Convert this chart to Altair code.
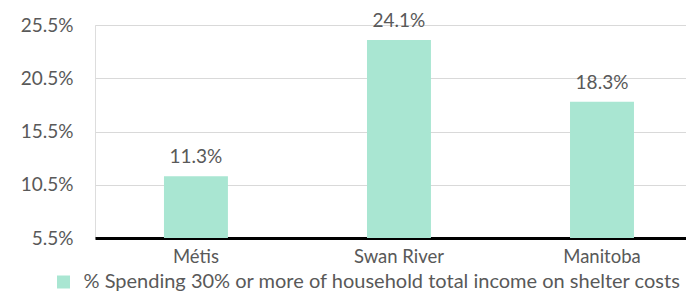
import altair as alt
import pandas as pd

categories = ["Métis", "Swan River", "Manitoba"]
values = [11.3, 24.1, 18.3]
labels = ["11.3%", "24.1%", "18.3%"]
series_name = "% Spending 30% or more of household total income on shelter costs"
y_ticks = [5.5, 10.5, 15.5, 20.5, 25.5]
y_min, y_max = 5.5, 25.5

df = pd.DataFrame({
    "cat": categories,
    "val": values,
    "label": labels,
    "series": [series_name] * len(categories),
})

FONT = "Lato"
GREY = "#595959"
BAR = "#A9E6D2"

x = alt.X(
    "cat:N", sort=categories, title=None,
    scale=alt.Scale(paddingInner=0.685, paddingOuter=0.298, align=0.57),
    axis=alt.Axis(labelAngle=0, labelFont=FONT, labelFontSize=18.5, labelColor=GREY,
                  domainColor="black", domainWidth=3, ticks=False, labelPadding=9,
                  grid=False),
)
y = alt.Y(
    "val:Q", title=None,
    scale=alt.Scale(domain=[y_min, y_max], nice=False, zero=False),
    axis=alt.Axis(values=y_ticks, labelExpr="format(datum.value, '.1f') + '%'",
                  labelFont=FONT, labelFontSize=19, labelColor=GREY, domain=False,
                  ticks=False, gridColor="#D9D9D9", gridWidth=1, labelPadding=22),
)

bars = alt.Chart(df).mark_bar().encode(
    x=x, y=y, y2=alt.datum(y_min),
    color=alt.Color(
        "series:N", scale=alt.Scale(range=[BAR]),
        legend=alt.Legend(orient="none", legendX=-41.5, legendY=247, title=None,
                          symbolType="square", symbolSize=169, symbolStrokeWidth=0,
                          labelFont=FONT, labelFontSize=20, labelColor=GREY,
                          padding=0, labelOffset=10, labelLimit=1000),
    ),
)

text = alt.Chart(df).mark_text(dy=-13, baseline="alphabetic", font=FONT, fontSize=19,
                               color=GREY).encode(x=x, y=y, text="label:N")

chart = (bars + text).properties(
    width=591, height=213,
    autosize=alt.AutoSizeParams(type="none"),
    padding={"left": 87, "top": 17, "right": 0, "bottom": 54},
).configure_view(stroke=None).configure(background="white")

chart.save("out.html", embed_options={"renderer": "svg", "actions": False})
